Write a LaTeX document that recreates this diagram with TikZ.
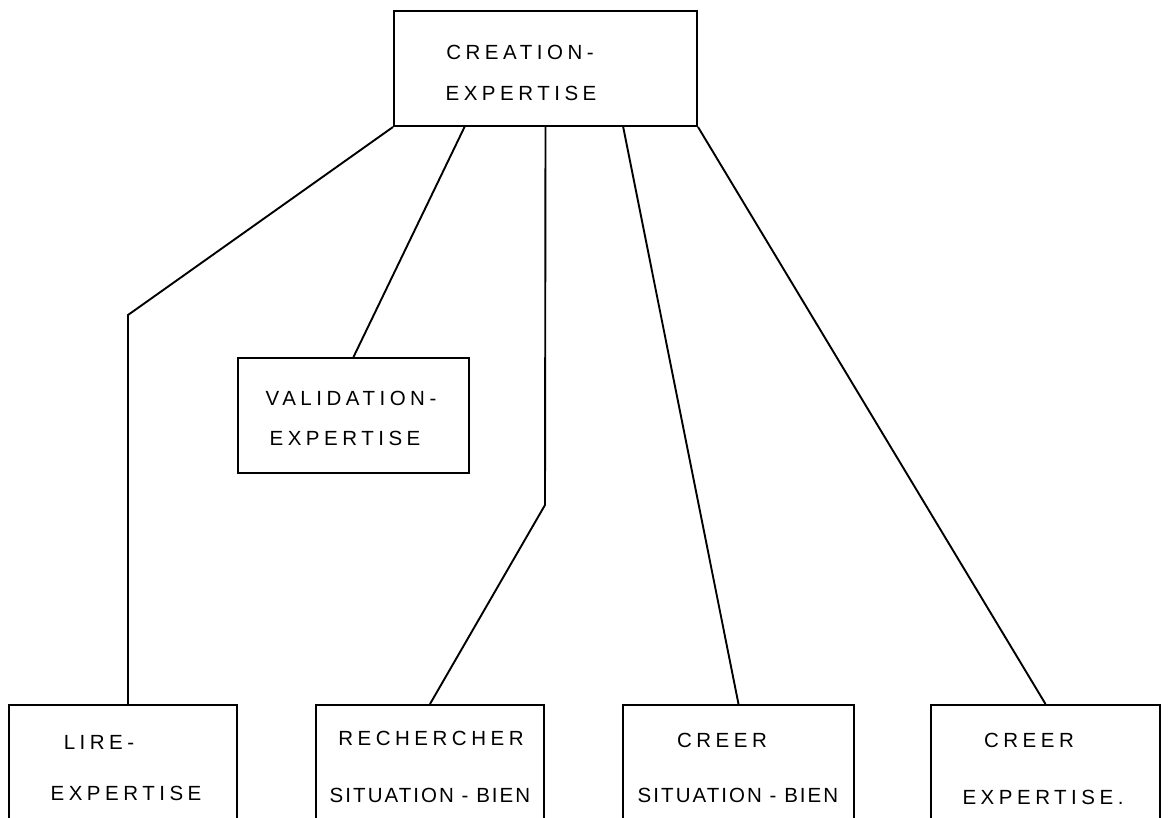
\documentclass[tikz,border=0pt]{standalone}
\usepackage{fontspec}
\setmainfont{Liberation Sans}
\usepackage{tikz}
\usetikzlibrary{positioning}
\newfontfamily\handfont[LetterSpace=22]{Liberation Sans}
\newfontfamily\handtight[LetterSpace=10]{Liberation Sans}
\tikzset{
  box/.style={rectangle, draw=black, line width=2pt, fill=none, inner sep=0pt},
  lbl/.style={font=\handfont\fontsize{20.5}{20.5}\selectfont, inner sep=1pt},
  lbltight/.style={font=\handtight\fontsize{20.5}{20.5}\selectfont, inner sep=1pt},
  link/.style={draw=black, line width=1.9pt, line join=miter}
}
\begin{document}
\begin{tikzpicture}[x=1pt, y=-1pt]
        \useasboundingbox (0,0) rectangle (1171,818);
        \clip (0,0) rectangle (1171,818);
        \node[box, minimum width=303pt, minimum height=115pt] (top) at (545.5,68.5) {};
        \node[box, minimum width=231pt, minimum height=115pt] (val) at (353.5,415.5) {};
        \node[box, minimum width=228pt, minimum height=140pt] (lire) at (123,775) {};
        \node[box, minimum width=228pt, minimum height=140pt] (rech) at (430,775) {};
        \node[box, minimum width=231pt, minimum height=140pt] (cs) at (738.5,775) {};
        \node[box, minimum width=229pt, minimum height=140pt] (ce) at (1045.5,775) {};
        \node[lbl] (top1) at (520,52) {CREATION-};
        \node[lbl] (top2) at (521,93) {EXPERTISE};
        \node[lbl] (val1) at (351,398) {VALIDATION-};
        \node[lbl] (val2) at (345,438) {EXPERTISE};
        \node[lbl] (lire1) at (99,742) {LIRE-};
        \node[lbl] (lire2) at (126,793) {EXPERTISE};
        \node[lbl] (rech1) at (431,738) {RECHERCHER};
        \node[lbltight] (rech2) at (430,795) {SITUATION - BIEN};
        \node[lbl] (cs1) at (722,740) {CREER};
        \node[lbltight] (cs2) at (738,795) {SITUATION - BIEN};
        \node[lbl] (ce1) at (1029,740) {CREER};
        \node[lbl] (ce2) at (1043,797) {EXPERTISE.};
        \coordinate (t2) at (465,126);
        \coordinate (t4) at (623,126);
        \coordinate (k1) at (128,315);
        \coordinate (k3) at (545,505);
        \draw[link] (top.south west) -- (k1) -- (k1 |- lire.north);
        \draw[link] (t2) -- (val.north);
        \draw[link] (top.south) -- (k3) -- (rech.north);
        \draw[link] (t4) -- (cs.north);
        \draw[link] (top.south east) -- (ce.north);
      \end{tikzpicture}
\end{document}
